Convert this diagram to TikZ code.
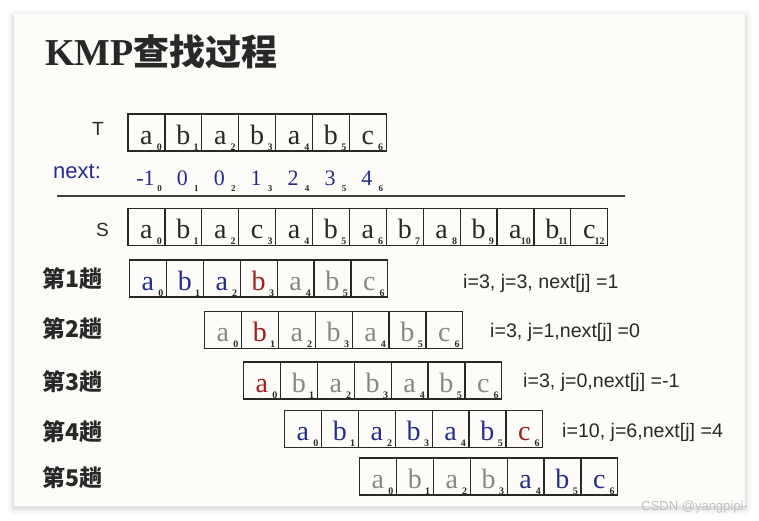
\documentclass[tikz,border=0pt]{standalone}
\usepackage{fontspec}
\setmainfont{Liberation Serif}
\setsansfont{Liberation Sans}
\newfontfamily\cjk{Noto Sans CJK SC}
\usetikzlibrary{calc}
\definecolor{kmp@blue}{RGB}{38,44,140}
\definecolor{kmp@red}{RGB}{165,28,30}
\definecolor{kmp@gray}{RGB}{135,135,135}
\definecolor{kmp@ink}{RGB}{40,40,40}
\definecolor{kmp@paper}{RGB}{253,252,248}
\tikzset{
  cell/.style={draw=kmp@ink, line width=1.2pt, minimum width=36.9pt, minimum height=37pt,
    inner sep=0pt, text height=23pt, text depth=0pt, font=\fontsize{28}{28}\selectfont},
  idx/.style={anchor=south east, inner sep=0pt, text=kmp@ink, font=\bfseries\fontsize{10}{10}\selectfont},
  nextval/.style={anchor=base, inner sep=0pt, text=kmp@blue, font=\fontsize{22}{22}\selectfont},
  nextidx/.style={anchor=base, inner sep=0pt, text=kmp@ink, font=\bfseries\fontsize{9}{9}\selectfont},
  rowname/.style={anchor=center, inner sep=0pt, text=kmp@ink, font=\sffamily\fontsize{19}{19}\selectfont},
  passname/.style={anchor=west, inner sep=0pt, text=kmp@ink, font=\cjk\bfseries\fontsize{23}{23}\selectfont},
  note/.style={anchor=base west, inner sep=0pt, text=kmp@ink, font=\sffamily\fontsize{19.6}{19.6}\selectfont},
}

\begin{document}
\begin{tikzpicture}[x=1pt, y=-1pt]

% page and card
\fill[white] (0,0) rectangle (759,520);
\useasboundingbox (0,0) rectangle (759,520);
\foreach \s/\o in {7/0.015, 5/0.02, 3/0.03, 1.5/0.04}
  \fill[black, opacity=\o, rounded corners=\s pt] (14-\s,14-\s+2) rectangle (745+\s,506+\s+2);
\fill[kmp@paper] (14,14) rectangle (745,506);

\node[anchor=base west, inner sep=0pt, text=kmp@ink] (title) at (45,65)
  {{\bfseries\fontsize{38}{38}\selectfont KMP}{\cjk\bfseries\fontsize{36}{36}\selectfont 查找过程}};

% T
\node[rowname] (lblT) at (98,128.5) {T};
\begin{scope}[shift={(128,114)}]
  \foreach \ch [count=\i from 0] in {a,b,a,b,a,b,c} {
    \node[cell, text=kmp@ink] (t\i) at (\i*36.9+18.45,18.5) {\ch};
    \node[idx] (ti\i) at ([xshift=-3.5pt,yshift=1pt]t\i.south east) {\i};
  }
\end{scope}

% next
\node[anchor=base west, inner sep=0pt, text=kmp@blue, font=\sffamily\fontsize{22}{22}\selectfont] (lblnext) at (53,178) {next:};
\begin{scope}[shift={(128,0)}]
  \foreach \v [count=\i from 0] in {-1,0,0,1,2,3,4} {
    \node[nextval] (n\i) at (\i*36.9+17.5,185) {\v};
    \node[nextidx] (ni\i) at (\i*36.9+31.5,191) {\i};
  }
\end{scope}
\draw[kmp@ink!90!white, line width=2pt] (57,196) -- (625,196);

% S
\node[rowname] (lblS) at (102.5,230) {S};
\begin{scope}[shift={(128,208.5)}]
  \foreach \ch [count=\i from 0] in {a,b,a,c,a,b,a,b,a,b,a,b,c} {
    \node[cell, text=kmp@ink] (s\i) at (\i*36.9+18.45,18.5) {\ch};
    \node[idx] (si\i) at ([xshift=-3.5pt,yshift=1pt]s\i.south east) {\i};
  }
\end{scope}

% pass 1
\node[passname] (lbl1) at (42,278.5) {第1趟};
\begin{scope}[shift={(129.5,260)}]
  \foreach \ch/\col [count=\i from 0] in {a/kmp@blue,b/kmp@blue,a/kmp@blue,b/kmp@red,a/kmp@gray,b/kmp@gray,c/kmp@gray} {
    \node[cell, text=\col] (p1c\i) at (\i*36.9+18.45,18.5) {\ch};
    \node[idx] (p1i\i) at ([xshift=-3.5pt,yshift=1pt]p1c\i.south east) {\i};
  }
\end{scope}
\node[note] (note1) at (463,288) {i=3, j=3, next[j] =1};

% pass 2
\node[passname] (lbl2) at (42,328.5) {第2趟};
\begin{scope}[shift={(204.5,311.5)}]
  \foreach \ch/\col [count=\i from 0] in {a/kmp@gray,b/kmp@red,a/kmp@gray,b/kmp@gray,a/kmp@gray,b/kmp@gray,c/kmp@gray} {
    \node[cell, text=\col] (p2c\i) at (\i*36.9+18.45,18.5) {\ch};
    \node[idx] (p2i\i) at ([xshift=-3.5pt,yshift=1pt]p2c\i.south east) {\i};
  }
\end{scope}
\node[note] (note2) at (490,337) {i=3, j=1,next[j] =0};

% pass 3
\node[passname] (lbl3) at (42,381.5) {第3趟};
\begin{scope}[shift={(243.5,362)}]
  \foreach \ch/\col [count=\i from 0] in {a/kmp@red,b/kmp@gray,a/kmp@gray,b/kmp@gray,a/kmp@gray,b/kmp@gray,c/kmp@gray} {
    \node[cell, text=\col] (p3c\i) at (\i*36.9+18.45,18.5) {\ch};
    \node[idx] (p3i\i) at ([xshift=-3.5pt,yshift=1pt]p3c\i.south east) {\i};
  }
\end{scope}
\node[note] (note3) at (523,387) {i=3, j=0,next[j] =-1};

% pass 4
\node[passname] (lbl4) at (42,431.5) {第4趟};
\begin{scope}[shift={(284.5,410.5)}]
  \foreach \ch/\col [count=\i from 0] in {a/kmp@blue,b/kmp@blue,a/kmp@blue,b/kmp@blue,a/kmp@blue,b/kmp@blue,c/kmp@red} {
    \node[cell, text=\col] (p4c\i) at (\i*36.9+18.45,18.5) {\ch};
    \node[idx] (p4i\i) at ([xshift=-3.5pt,yshift=1pt]p4c\i.south east) {\i};
  }
\end{scope}
\node[note] (note4) at (562,437) {i=10, j=6,next[j] =4};

% pass 5
\node[passname] (lbl5) at (42,477.5) {第5趟};
\begin{scope}[shift={(359.5,458)}]
  \foreach \ch/\col [count=\i from 0] in {a/kmp@gray,b/kmp@gray,a/kmp@gray,b/kmp@gray,a/kmp@blue,b/kmp@blue,c/kmp@blue} {
    \node[cell, text=\col] (p5c\i) at (\i*36.9+18.45,18.5) {\ch};
    \node[idx] (p5i\i) at ([xshift=-3.5pt,yshift=1pt]p5c\i.south east) {\i};
  }
\end{scope}

\node[anchor=east, inner sep=0pt, text=black!25, font=\sffamily\fontsize{13}{13}\selectfont] (mark) at (748,507) {CSDN @yangpipi-};

\end{tikzpicture}
\end{document}
